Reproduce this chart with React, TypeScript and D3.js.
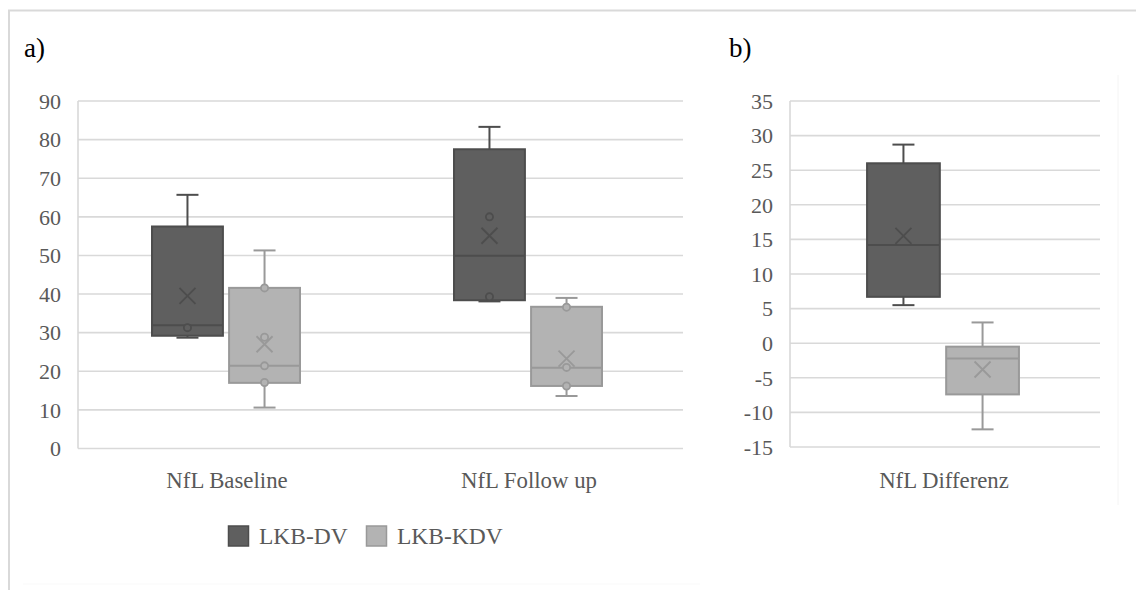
import React from "react";
import * as d3 from "d3";

// ---- data ----
const categoriesA = ["NfL Baseline", "NfL Follow up"];
const categoriesB = ["NfL Differenz"];
const seriesNames = ["LKB-DV", "LKB-KDV"];

// panel a, per category
const dvA_low = [28.7, 38.1];
const dvA_q1 = [29.2, 38.4];
const dvA_med = [31.9, 49.9];
const dvA_q3 = [57.5, 77.5];
const dvA_high = [65.7, 83.3];
const dvA_mean = [39.5, 55.1];
const dvA_points = [[31.3], [39.3, 60.0]];

const kdvA_low = [10.6, 13.6];
const kdvA_q1 = [17.0, 16.2];
const kdvA_med = [21.4, 20.9];
const kdvA_q3 = [41.6, 36.7];
const kdvA_high = [51.3, 39.0];
const kdvA_mean = [27.0, 23.3];
const kdvA_points = [[17.1, 21.4, 28.8, 41.6], [16.2, 21.0, 36.6]];

// panel b
const dvB_low = [5.5];
const dvB_q1 = [6.7];
const dvB_med = [14.2];
const dvB_q3 = [26.0];
const dvB_high = [28.7];
const dvB_mean = [15.5];
const dvB_points: number[][] = [[]];

const kdvB_low = [-12.45];
const kdvB_q1 = [-7.4];
const kdvB_med = [-2.2];
const kdvB_q3 = [-0.5];
const kdvB_high = [3.0];
const kdvB_mean = [-3.8];
const kdvB_points: number[][] = [[]];

const ticksA = [0, 10, 20, 30, 40, 50, 60, 70, 80, 90];
const ticksB = [-15, -10, -5, 0, 5, 10, 15, 20, 25, 30, 35];

// ---- styles ----
const FONT = "'Liberation Serif', 'DejaVu Serif', serif";
const TEXT = "#595959";
const GRID = "#d9d9d9";
const FILL = ["#5f5f5f", "#b3b3b3"];
const STROKE = ["#4d4d4d", "#999999"];

type Stat = { low: number; q1: number; med: number; q3: number; high: number; mean: number; pts: number[] };

function build(cats: string[], arrs: any[][]): Stat[][] {
  return arrs.map((a) =>
    cats.map((_, i) => ({
      low: a[0][i], q1: a[1][i], med: a[2][i], q3: a[3][i], high: a[4][i], mean: a[5][i], pts: a[6][i],
    }))
  );
}

function Panel(props: {
  cats: string[];
  stats: Stat[][];
  ticks: number[];
  domain: [number, number];
  yTop: number;
  yBot: number;
  axisX: number;
  gridRight: number;
  bandRange: [number, number];
  labelRight: number;
}) {
  const { cats, stats, ticks, domain, yTop, yBot, axisX, gridRight, bandRange, labelRight } = props;
  const y = d3.scaleLinear().domain(domain).range([yBot, yTop]);
  const x = d3.scaleBand<string>().domain(cats).range(bandRange);
  const bw = x.bandwidth();
  const inner = d3
    .scaleBand<string>()
    .domain(seriesNames)
    .range([bw * 0.255, bw * 0.745])
    .paddingInner(0.08);
  const boxW = inner.bandwidth();
  const capW = 22;
  const xs = 8;
  return (
    <g>
      {ticks.map((t) => (
        <g key={t}>
          <line x1={axisX} x2={gridRight} y1={y(t)} y2={y(t)} stroke={GRID} strokeWidth={1.6} />
          <text x={labelRight} y={y(t)} dy="0.35em" textAnchor="end" fontFamily={FONT} fontSize={22} fill={TEXT}>
            {t}
          </text>
        </g>
      ))}
      <line x1={axisX} x2={axisX} y1={yTop} y2={yBot} stroke={GRID} strokeWidth={1.6} />
      {cats.map((c, ci) => (
        <text key={c} x={(x(c) ?? 0) + bw / 2 + 1} y={488} textAnchor="middle" fontFamily={FONT} fontSize={22.8} fill={TEXT}>
          {c}
        </text>
      ))}
      {seriesNames.map((s, si) =>
        cats.map((c, ci) => {
          const st = stats[si][ci];
          const x0 = (x(c) ?? 0) + (inner(s) ?? 0);
          const cx = x0 + boxW / 2;
          const col = STROKE[si];
          const my = y(st.mean);
          return (
            <g key={s + c}>
              <line x1={cx} x2={cx} y1={y(st.q3)} y2={y(st.high)} stroke={col} strokeWidth={2} />
              <line x1={cx - capW / 2} x2={cx + capW / 2} y1={y(st.high)} y2={y(st.high)} stroke={col} strokeWidth={2} />
              <line x1={cx} x2={cx} y1={y(st.q1)} y2={y(st.low)} stroke={col} strokeWidth={2} />
              <line x1={cx - capW / 2} x2={cx + capW / 2} y1={y(st.low)} y2={y(st.low)} stroke={col} strokeWidth={2} />
              <rect x={x0} y={y(st.q3)} width={boxW} height={y(st.q1) - y(st.q3)} fill={FILL[si]} stroke={col} strokeWidth={2} />
              <line x1={x0} x2={x0 + boxW} y1={y(st.med)} y2={y(st.med)} stroke={col} strokeWidth={2} />
              <path
                d={`M${cx - xs},${my - xs}L${cx + xs},${my + xs}M${cx - xs},${my + xs}L${cx + xs},${my - xs}`}
                stroke={col}
                strokeWidth={1.8}
                fill="none"
              />
              {st.pts.map((p, pi) => (
                <circle key={pi} cx={cx} cy={y(p)} r={3.6} fill={FILL[si]} stroke={col} strokeWidth={1.8} />
              ))}
            </g>
          );
        })
      )}
    </g>
  );
}

export default function App() {
  const statsA = build(categoriesA, [
    [dvA_low, dvA_q1, dvA_med, dvA_q3, dvA_high, dvA_mean, dvA_points],
    [kdvA_low, kdvA_q1, kdvA_med, kdvA_q3, kdvA_high, kdvA_mean, kdvA_points],
  ]);
  const statsB = build(categoriesB, [
    [dvB_low, dvB_q1, dvB_med, dvB_q3, dvB_high, dvB_mean, dvB_points],
    [kdvB_low, kdvB_q1, kdvB_med, kdvB_q3, kdvB_high, kdvB_mean, kdvB_points],
  ]);
  return (
    <svg
      width={1136}
      height={590}
      viewBox="0 0 1136 590"
      style={{ position: "absolute", left: 0, top: 0, background: "#fff" }}
    >
      <rect x={0} y={0} width={1136} height={590} fill="#fff" />
      {/* frame */}
      <line x1={8} x2={1136} y1={10.5} y2={10.5} stroke={GRID} strokeWidth={2} />
      <line x1={9} x2={9} y1={10} y2={590} stroke={GRID} strokeWidth={2} />
      <line x1={1118} x2={1118} y1={75} y2={505} stroke="#f4f4f4" strokeWidth={1} />
      <line x1={23} x2={700} y1={584} y2={584} stroke="#f9f9f9" strokeWidth={1} />

      <text x={24} y={57} fontFamily={FONT} fontSize={27} fill="#000">a)</text>
      <text x={729} y={57} fontFamily={FONT} fontSize={27} fill="#000">b)</text>

      <Panel
        cats={categoriesA}
        stats={statsA}
        ticks={ticksA}
        domain={[0, 90]}
        yTop={101}
        yBot={448.5}
        axisX={78}
        gridRight={683}
        bandRange={[75, 679]}
        labelRight={61}
      />
      <Panel
        cats={categoriesB}
        stats={statsB}
        ticks={ticksB}
        domain={[-15, 35]}
        yTop={101}
        yBot={447}
        axisX={790}
        gridRight={1100}
        bandRange={[788, 1098]}
        labelRight={773}
      />

      {/* legend */}
      {seriesNames.map((s, i) => {
        const lx = [228, 366][i];
        return (
          <g key={s}>
            <rect x={lx + 0.5} y={526} width={20} height={20} fill={FILL[i]} stroke={STROKE[i]} strokeWidth={1.5} />
            <text x={lx + 31} y={544} fontFamily={FONT} fontSize={23.5} fill={TEXT}>
              {s}
            </text>
          </g>
        );
      })}
    </svg>
  );
}
